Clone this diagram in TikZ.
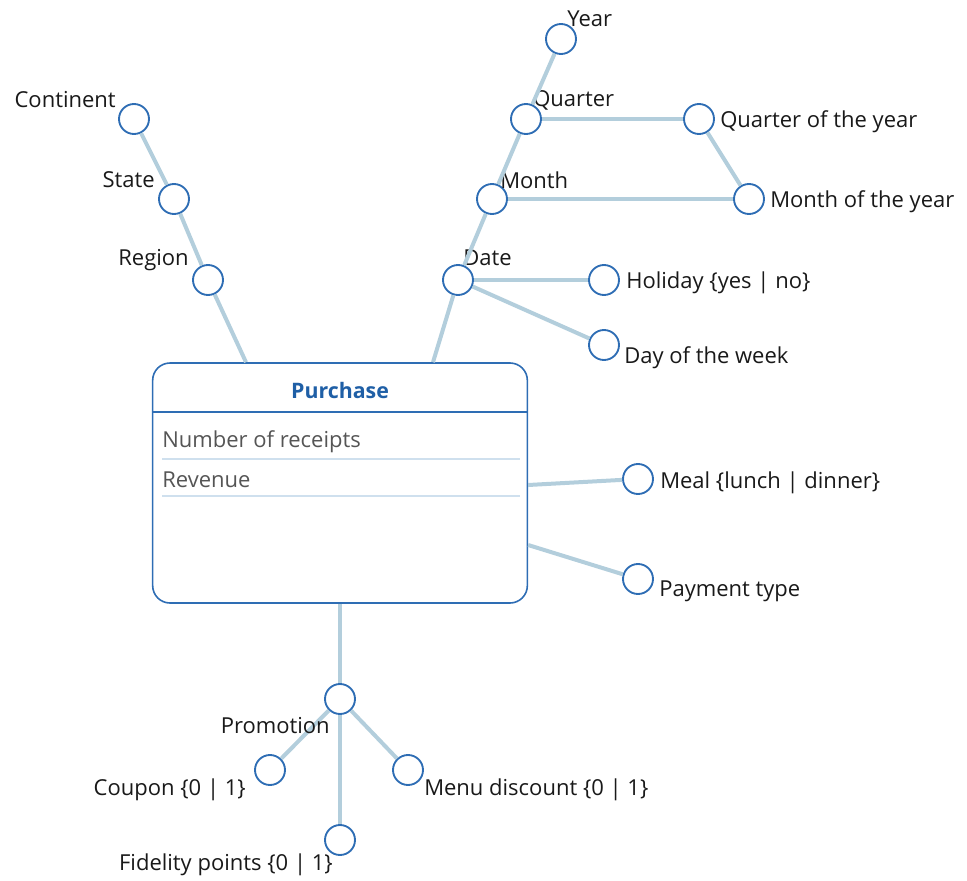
\documentclass[tikz,border=0pt]{standalone}
\usepackage{fontspec}
\setmainfont{Open Sans}
\usepackage{tikz}
\usetikzlibrary{positioning}
\definecolor{linkblue}{HTML}{B3CEDC}
\definecolor{ringblue}{HTML}{2E6DB4}
\definecolor{titleblue}{HTML}{1F5FA6}
\definecolor{rowgray}{HTML}{555555}
\definecolor{rowline}{HTML}{CFE0EE}
\tikzset
{
  attr/.style    = {circle, draw=ringblue, fill=white, line width=1.4pt, minimum size=22.5pt, inner sep=0pt},
  link/.style    = {draw=linkblue, line width=3pt},
  lbl/.style     = {inner sep=0pt, yshift=-1.5pt, font=\fontsize{16.5}{18}\selectfont, text=black!90},
  factbox/.style = {draw=ringblue, line width=1.2pt, rounded corners=13pt, minimum width=281pt, minimum height=180pt, inner sep=0pt}
}

\begin{document}
\begin{tikzpicture}[x=0.75pt,y=-0.75pt]
            \useasboundingbox (0,0) rectangle (967,881);
            % fact table
            \node [factbox] (purchase) at (340,483) {};
            \draw [ringblue, line width=1.2pt] (purchase.west |- 0,412) -- (purchase.east |- 0,412);
            \draw [rowline, line width=0.8pt] (162,459) -- (520,459) (162,496) -- (520,496);
            \node [font=\fontsize{16}{18}\selectfont\bfseries, text=titleblue] (title) at (340,390) {Purchase};
            \node [lbl, text=rowgray, anchor=west] (receipts) at (162,440) {Number of receipts};
            \node [lbl, text=rowgray, anchor=west] (revenue) at (162,478) {Revenue};
            % location
            \node [attr] (continent) at (134,119) {};
            \node [attr] (state) at (174,199) {};
            \node [attr] (region) at (208,280) {};
            \node [lbl, anchor=east] (continentlbl) at (116,98) {Continent};
            \node [lbl, anchor=east] (statelbl) at (155,178) {State};
            \node [lbl, anchor=east] (regionlbl) at (189,258) {Region};
            % time
            \node [attr] (year) at (561,39) {};
            \node [attr] (quarter) at (526,119) {};
            \node [attr] (quarteryear) at (699,119) {};
            \node [attr] (month) at (492,199) {};
            \node [attr] (monthyear) at (749,199) {};
            \node [attr] (date) at (458,280) {};
            \node [attr] (holiday) at (604,280) {};
            \node [attr] (weekday) at (604,345) {};
            \node [lbl, anchor=west] (yearlbl) at (567,17) {Year};
            \node [lbl, anchor=west] (quarterlbl) at (533,98) {Quarter};
            \node [lbl, anchor=west] (quarteryearlbl) at (720,120) {Quarter of the year};
            \node [lbl, anchor=west] (monthlbl) at (500,178) {Month};
            \node [lbl, anchor=west] (monthyearlbl) at (770,200) {Month of the year};
            \node [lbl, anchor=west] (datelbl) at (463,256) {Date};
            \node [lbl, anchor=west] (holidaylbl) at (626,281) {Holiday \{yes | no\}};
            \node [lbl, anchor=west] (weekdaylbl) at (624,356) {Day of the week};
            % meal and payment
            \node [attr] (meal) at (638,479) {};
            \node [attr] (payment) at (638,579) {};
            \node [lbl, anchor=west] (meallbl) at (660,481) {Meal \{lunch | dinner\}};
            \node [lbl, anchor=west] (paymentlbl) at (659,589) {Payment type};
            % promotion
            \node [attr] (promotion) at (340,699) {};
            \node [attr] (coupon) at (270,770) {};
            \node [attr] (menudiscount) at (408,770) {};
            \node [attr] (fidelity) at (340,840) {};
            % links
            \draw [link] (continent) -- (state);
            \draw [link] (state) -- (region);
            \draw [link] (region) -- (purchase.north -| 246,0);
            \draw [link] (year) -- (quarter);
            \draw [link] (quarter) -- (month);
            \draw [link] (month) -- (date);
            \draw [link] (quarter) -- (quarteryear);
            \draw [link] (quarteryear) -- (monthyear);
            \draw [link] (month) -- (monthyear);
            \draw [link] (date) -- (holiday);
            \draw [link] (date) -- (weekday);
            \draw [link] (date) -- (purchase.north -| 433,0);
            \draw [link] (purchase.east |- 0,485) -- (meal);
            \draw [link] (purchase.east |- 0,545) -- (payment);
            \draw [link] (purchase.south) -- (promotion);
            \draw [link] (promotion) -- (coupon);
            \draw [link] (promotion) -- (menudiscount);
            \draw [link] (promotion) -- (fidelity);
            \node [lbl, anchor=east] (promotionlbl) at (330,724) {Promotion};
            \node [lbl, anchor=east] (couponlbl) at (246,788) {Coupon \{0 | 1\}};
            \node [lbl, anchor=west] (menudiscountlbl) at (424,788) {Menu discount \{0 | 1\}};
            \node [lbl, anchor=east] (fidelitylbl) at (333,863) {Fidelity points \{0 | 1\}};
          \end{tikzpicture}
\end{document}
